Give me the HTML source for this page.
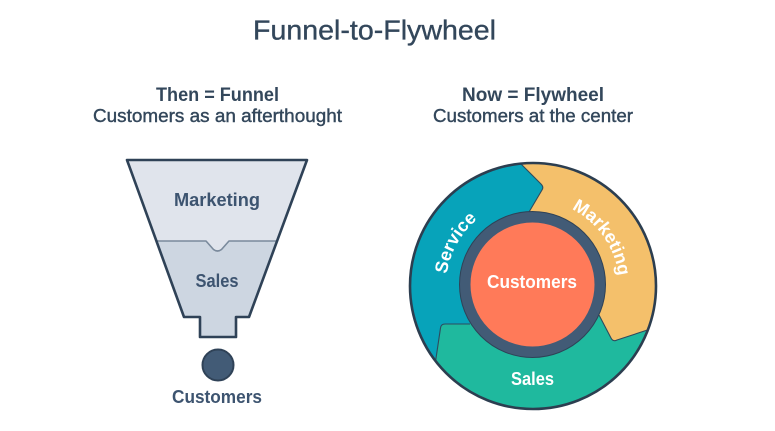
<!DOCTYPE html>
<html>
<head>
<meta charset="utf-8">
<style>
  html, body { margin: 0; padding: 0; background: #ffffff; }
  body { width: 775px; height: 431px; overflow: hidden; }
  svg { display: block; }
  text { font-family: "Liberation Sans", sans-serif; }
</style>
</head>
<body>
<svg width="775" height="431" viewBox="0 0 775 431" xmlns="http://www.w3.org/2000/svg">
  <defs>
    <clipPath id="wheelClip">
      <circle cx="533" cy="286" r="123"/>
    </clipPath>
    <path id="arcService" d="M457.7,329.5 A87,87 0 0 1 530,199.1" fill="none"/>
    <path id="arcMarketing" d="M527,200.2 A86,86 0 0 1 611.6,321" fill="none"/>
  </defs>

  <!-- Title -->
  <text x="374.5" y="39.5" font-size="28" fill="#33475b" text-anchor="middle" textLength="243" lengthAdjust="spacingAndGlyphs" stroke="#33475b" stroke-width="0.35">Funnel-to-Flywheel</text>

  <!-- Left headings -->
  <text x="217.5" y="101" font-size="19" font-weight="bold" fill="#33475b" text-anchor="middle" textLength="123" lengthAdjust="spacingAndGlyphs">Then = Funnel</text>
  <text x="217.5" y="122" font-size="18" fill="#33475b" text-anchor="middle" textLength="249" lengthAdjust="spacingAndGlyphs" stroke="#33475b" stroke-width="0.4">Customers as an afterthought</text>

  <!-- Right headings -->
  <text x="533" y="101" font-size="19" font-weight="bold" fill="#33475b" text-anchor="middle" textLength="142" lengthAdjust="spacingAndGlyphs">Now = Flywheel</text>
  <text x="533" y="122" font-size="18" fill="#33475b" text-anchor="middle" textLength="200" lengthAdjust="spacingAndGlyphs" stroke="#33475b" stroke-width="0.4">Customers at the center</text>

  <!-- Funnel -->
  <path d="M127,160 L307,160 L249,317 L236,317 L236,337 L200,337 L200,317 L184,317 Z" fill="#cdd6e1"/>
  <path d="M127,160 L307,160 L277,241 L229,241 L221.5,249.5 Q217.5,252.5 213.5,249.5 L206,241 L156.4,241 Z" fill="#e0e4ec"/>
  <path d="M156.4,241 L206,241 L213.5,249.5 Q217.5,252.5 221.5,249.5 L229,241 L277,241" fill="none" stroke="#7a8a9c" stroke-width="1.6" stroke-linejoin="round"/>
  <path d="M127,160 L307,160 L249,317 L236,317 L236,337 L200,337 L200,317 L184,317 Z" fill="none" stroke="#2f4257" stroke-width="2.6" stroke-linejoin="round"/>

  <text x="217" y="206" font-size="18" font-weight="bold" fill="#3d5470" text-anchor="middle" textLength="86" lengthAdjust="spacingAndGlyphs">Marketing</text>
  <text x="217" y="287" font-size="18" font-weight="bold" fill="#3d5470" text-anchor="middle" textLength="43" lengthAdjust="spacingAndGlyphs">Sales</text>

  <circle cx="218" cy="365" r="15.5" fill="#425b76" stroke="#2f4257" stroke-width="2"/>
  <text x="217" y="403" font-size="18" font-weight="bold" fill="#3d5470" text-anchor="middle" textLength="90" lengthAdjust="spacingAndGlyphs">Customers</text>

  <!-- Flywheel -->
  <g clip-path="url(#wheelClip)">
    <circle cx="533" cy="286" r="125" fill="#07a3ba"/>
    <!-- Marketing (orange) -->
    <path d="M499,142 L541,184 Q544,187 542,190 L529,212 L533,286 L599,315 L611,338 Q613,342 617,340 L675,321 L720,250 L700,120 L560,90 L499,120 Z" fill="#f4c06b"/>
    <!-- Sales (green) -->
    <path d="M675,321 L617,340 Q613,342 611,338 L599,315 L533,286 L470,324 L445,324 Q441,324 440.5,328 L431,392 L431,430 L710,430 L710,321 Z" fill="#1fb99e"/>
    <!-- boundary lines -->
    <path d="M499,142 L541,184 Q544,187 542,190 L529,212" fill="none" stroke="#2f4a5e" stroke-width="1.1" stroke-linejoin="round"/>
    <path d="M599,315 L611,338 Q613,342 617,340 L675,321" fill="none" stroke="#2f4a5e" stroke-width="1.1" stroke-linejoin="round"/>
    <path d="M470,324 L445,324 Q441,324 440.5,328 L431,392" fill="none" stroke="#2f4a5e" stroke-width="1.1" stroke-linejoin="round"/>
  </g>
  <circle cx="533" cy="286" r="123" fill="none" stroke="#2c3e50" stroke-width="2.6"/>

  <!-- inner ring and center -->
  <circle cx="532.5" cy="284.5" r="67.5" fill="#ff7a59" stroke="#425b76" stroke-width="11"/>
  <circle cx="532.5" cy="284.5" r="73" fill="none" stroke="#2f4257" stroke-width="1"/>

  <text x="532" y="288" font-size="18" font-weight="bold" fill="#ffffff" text-anchor="middle" textLength="90" lengthAdjust="spacingAndGlyphs">Customers</text>
  <text x="532.5" y="385" font-size="18" font-weight="bold" fill="#ffffff" text-anchor="middle" textLength="43" lengthAdjust="spacingAndGlyphs">Sales</text>

  <text font-size="18" font-weight="bold" fill="#ffffff" text-anchor="middle">
    <textPath href="#arcService" startOffset="50%">Service</textPath>
  </text>
  <text font-size="18" font-weight="bold" fill="#ffffff" text-anchor="middle">
    <textPath href="#arcMarketing" startOffset="50%">Marketing</textPath>
  </text>
</svg>
</body>
</html>
